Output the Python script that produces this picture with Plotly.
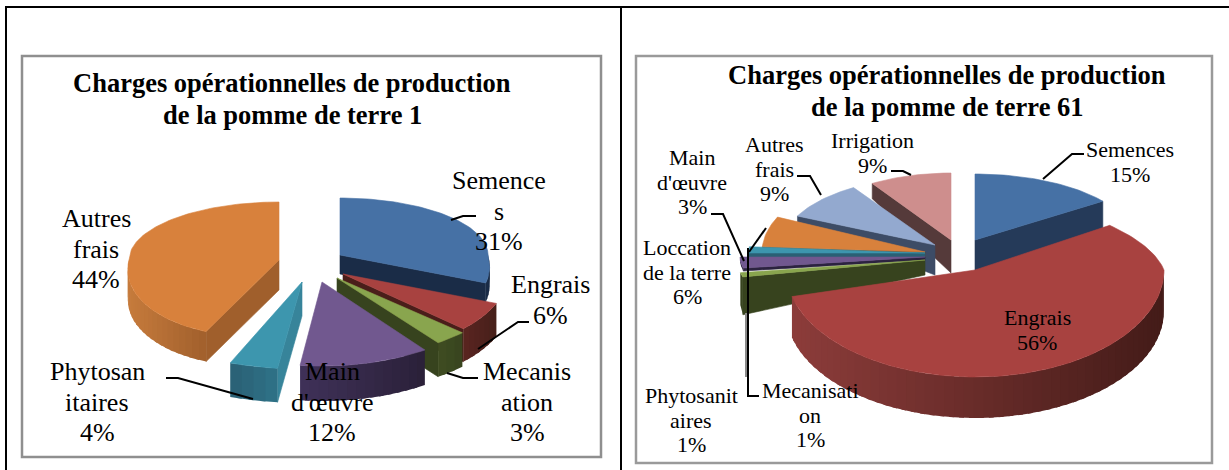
import math
import plotly.graph_objects as go

# ---------- data ----------
left_title = "Charges opérationnelles de production<br>de la pomme de terre 1"
left_categories = ["Semences", "Engrais", "Mecanisation", "Main d'œuvre", "Phytosanitaires", "Autres frais"]
left_values = [31, 6, 3, 12, 4, 44]
left_label_texts = ["Semence<br>s<br>31%", "Engrais<br>6%", "Mecanis<br>ation<br>3%",
                    "Main<br>d'œuvre<br>12%", "Phytosan<br>itaires<br>4%", "Autres<br>frais<br>44%"]

right_title = "Charges opérationnelles de production<br>de la pomme de terre 61"
right_categories = ["Semences", "Engrais", "Mecanisation", "Main d'œuvre", "Phytosanitaires",
                    "Loccation de la terre", "Autres frais", "Irrigation"]
right_values = [15, 56, 1, 3, 1, 6, 9, 9]
right_label_texts = ["Semences<br>15%", "Engrais<br>56%", "Mecanisati<br>on<br>1%", "Main<br>d'œuvre<br>3%",
                     "Phytosanit<br>aires<br>1%", "Loccation<br>de la terre<br>6%", "Autres<br>frais<br>9%",
                     "Irrigation<br>9%"]

# ---------- geometry / style (pixel-space layout of each exploded wedge) ----------
# cx, cy, rx, ry_back, ry_front, depth, depth_k, skew_back, skew_front
left_geom = [
    (340, 255, 148, 57, 76, 19, 0, 0, -22),
    (343, 274, 165, 80, 80, 33, 0, 0, 0),
    (337, 278, 172, 80, 80, 34, 0, 0, 0),
    (322, 282, 175, 84, 84, 35, 0, 0, 0),
    (302, 282, 195, 87, 87, 34, 0, 0, 0),
    (279, 260, 150, 58, 77, 30, 0, 0, 19),
]
left_style = [  # top, face, rim-left, rim-right
    ("#4671A5", "#1A2C47", "#1A2C47", "#1A2C47"),
    ("#A84240", "#4A1E1A", "#5A2420", "#45201A"),
    ("#89A54E", "#37431E", "#3F4D22", "#37431E"),
    ("#71588F", "#2C2340", "#3F3158", "#2A2038"),
    ("#3D96AE", "#37849A", "#2A6074", "#2F7389"),
    ("#D8813C", "#A05F2C", "#C67B3C", "#A05F2C"),
]
left_order = [0, 1, 2, 3, 5, 4]

right_geom = [
    (975, 240, 158, 66, 66, 31, 0, 0, 0),
    (975, 270, 189, 76, 107, 41, 0, -31, 0),
    (925, 260, 188, 68, 68, 15, 92, 0, 0),
    (925, 257, 185, 59, 59, 3, 0, 0, 0),
    (925, 253, 176, 100, 100, 4, 0, 0, 0),
    (925, 252, 163, 82, 82, 5, 0, 0, 0),
    (935, 245, 152, 68, 68, 30, 56, 0, 0),
    (951, 240, 147, 67, 67, 33, 21, 0, 0),
]
right_style = [
    ("#4671A5", "#253A59", "#253A59", "#253A59"),
    ("#A84240", "#4A1E1A", "#8C3C3A", "#431B18"),
    ("#89A54E", "#37431E", "#37431E", "#37431E"),
    ("#71588F", "#2C2340", "#2C2340", "#2C2340"),
    ("#3D96AE", "#2A6074", "#2A6074", "#2A6074"),
    ("#D8813C", "#6A4520", "#6A4520", "#6A4520"),
    ("#93A9CF", "#3D4C66", "#3D4C66", "#3D4C66"),
    ("#CE8E8D", "#553A3A", "#553A3A", "#553A3A"),
]
right_order = [7, 6, 5, 4, 3, 2, 0, 1]

left_label_pos = [(499, 211), (550, 300), (527, 402), (332, 402), (97, 402), (96, 249)]
right_label_pos = [(1130, 162), (1037, 330), (810, 415), (692, 182), (691, 420), (687, 272), (774, 169), (872, 153)]
LEFT_FONT, RIGHT_FONT, TITLE_FONT = 26, 22, 26.5
LEFT_STEP, RIGHT_STEP, TITLE_STEP = 30.6, 24.4, 32
FONT = "Liberation Serif"

left_leaders = [[(451, 220), (463, 216), (476, 216)], [(478, 349), (518, 322), (529, 322)],
                [(447, 373), (463, 378), (478, 378)], [(166, 378), (178, 378), (253, 399)]]
right_leaders = [[(1043, 179), (1072, 154), (1084, 154)], [(891, 171), (903, 171), (911, 175)],
                 [(797, 176), (810, 176), (821, 195)], [(711, 214), (723, 214), (744, 261)],
                 [(749, 252), (766, 228)], [(748, 248), (748, 396), (759, 396)]]
grey_leader = [(746, 313), (746, 377)]

fig = go.Figure()


def hexrgb(h):
    return tuple(int(h[i:i + 2], 16) for i in (1, 3, 5))


def mix(a, b, t):
    ca, cb = hexrgb(a), hexrgb(b)
    return "rgb(%d,%d,%d)" % tuple(round(ca[i] + (cb[i] - ca[i]) * t) for i in range(3))


def poly(xs, ys, color, lw=0.6):
    fig.add_trace(go.Scatter(x=xs, y=ys, mode="lines", fill="toself", fillcolor=color,
                             line=dict(color=color, width=lw), hoverinfo="skip", showlegend=False))


def point(g, deg):
    cx, cy, rx, rb, rf, d, k, sb, sf = g
    th = math.radians(deg)
    c, s = math.cos(th), math.sin(th)
    ry, sk = (rb, sb) if c >= 0 else (rf, sf)
    return cx + rx * s + sk * c, cy - ry * c, max(0.0, d - k * c)


def arange(a0, a1, step=1.5):
    n = max(2, int(abs(a1 - a0) / step) + 1)
    return [a0 + (a1 - a0) * i / (n - 1) for i in range(n)]


def face(g, deg, color):
    cx, cy, d = g[0], g[1], g[5]
    x, y, dd = point(g, deg)
    poly([cx, x, x, cx, cx], [cy, y, y + dd, cy + d, cy], color)


def wedge(g, st, a0, a1):
    top, fc, rim0, rim1 = st
    cx, cy = g[0], g[1]
    if math.sin(math.radians(a0)) < 0:
        face(g, a0, fc)
    if math.sin(math.radians(a1)) > 0:
        face(g, a1, fc)
    r0, r1 = max(a0, 90), min(a1, 270)
    if r1 > r0:
        xs_all = [point(g, a)[0] for a in arange(r0, r1)]
        xmin, xmax = min(xs_all), max(xs_all)
        n = max(1, int((r1 - r0) / 3))
        edges = [r0 + (r1 - r0) * i / n for i in range(n + 1)]
        # strips overlap the next one so no seam shows through
        for e0, e1 in zip(edges[:-1], edges[1:]):
            pts = [point(g, a) for a in arange(e0, min(r1, e1 + 1.5), 1)]
            xs = [p[0] for p in pts] + [p[0] for p in reversed(pts)]
            ys = [p[1] for p in pts] + [p[1] + p[2] for p in reversed(pts)]
            xm = sum(p[0] for p in pts) / len(pts)
            t = 0 if xmax == xmin else (xm - xmin) / (xmax - xmin)
            poly(xs + xs[:1], ys + ys[:1], mix(rim0, rim1, t), 0)
    pts = [point(g, a) for a in arange(a0, a1)]
    poly([cx] + [p[0] for p in pts] + [cx], [cy] + [p[1] for p in pts] + [cy], top)


def draw_pie(values, geom, style, order):
    total = sum(values)
    starts, acc = [], 0
    for v in values:
        starts.append((acc / total * 360, (acc + v) / total * 360))
        acc += v
    for i in order:
        wedge(geom[i], style[i], *starts[i])


draw_pie(left_values, left_geom, left_style, left_order)
draw_pie(right_values, right_geom, right_style, right_order)

shapes = []


def line(pts, color="#000000", width=2):
    path = "M" + " L".join(f"{x},{y}" for x, y in pts)
    shapes.append(dict(type="path", path=path, line=dict(color=color, width=width), xref="x", yref="y"))


def rect(x0, y0, x1, y1, color, width):
    shapes.append(dict(type="rect", x0=x0, y0=y0, x1=x1, y1=y1, line=dict(color=color, width=width), xref="x", yref="y"))


for pts in left_leaders + right_leaders:
    line(pts)
line(grey_leader, "#8A8A8A", 2)
rect(22, 56, 601, 457, "#8F8F8F", 2.5)
rect(636, 56, 1212, 463, "#9A9A9A", 2.5)
line([(6, 480), (6, 7), (1235, 7)], "#000000", 2)
line([(621, 7), (621, 480)], "#000000", 2)

ann = []


def text(x, y, s, size, step, bold=False):
    rows = s.split("<br>")
    for i, row in enumerate(rows):
        ann.append(dict(x=x, y=y + (i - (len(rows) - 1) / 2) * step, xref="x", yref="y",
                        text=f"<b>{row}</b>" if bold else row, showarrow=False,
                        xanchor="center", yanchor="middle", align="center",
                        font=dict(family=FONT, size=size, color="#000000")))


text(292, 99, left_title, TITLE_FONT, TITLE_STEP, True)
text(947, 91, right_title, TITLE_FONT, TITLE_STEP, True)
for (x, y), s in zip(left_label_pos, left_label_texts):
    text(x, y, s, LEFT_FONT, LEFT_STEP)
for (x, y), s in zip(right_label_pos, right_label_texts):
    text(x, y, s, RIGHT_FONT, RIGHT_STEP)

fig.update_layout(
    width=1229, height=470, margin=dict(l=0, r=0, t=0, b=0),
    paper_bgcolor="white", plot_bgcolor="white", showlegend=False,
    xaxis=dict(range=[0, 1229], visible=False, fixedrange=True),
    yaxis=dict(range=[470, 0], visible=False, fixedrange=True),
    shapes=shapes, annotations=ann,
)
fig.write_html("out.html", config={"displayModeBar": False},
               post_script="document.body.style.margin='0';document.body.style.overflow='hidden';")
